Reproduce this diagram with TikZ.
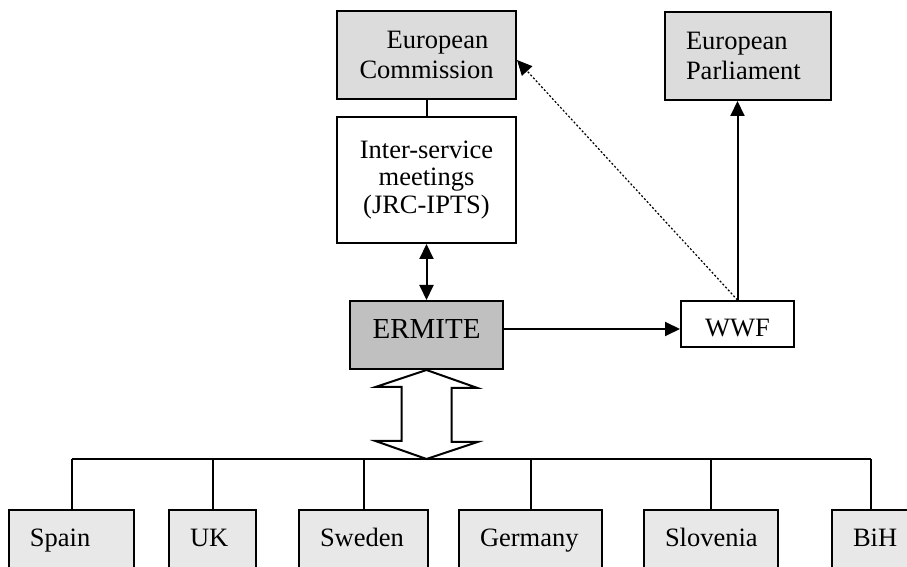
\documentclass[tikz,border=0pt]{standalone}
\usepackage{fontspec}
\setmainfont{Liberation Serif}
\usetikzlibrary{arrows.meta}
\definecolor{hq}{HTML}{DCDCDC}
\definecolor{ctry}{HTML}{E8E8E8}
\definecolor{core}{HTML}{C0C0C0}

\begin{document}
\begin{tikzpicture}[x=0.5pt, y=-0.5pt]
	\tikzset{n/.style={draw=black, line width=1pt, inner sep=0pt, font=\fontsize{13.25pt}{15.25pt}\selectfont},
	c/.style={n, fill=ctry, anchor=north west, inner xsep=10.5pt, text height=18pt, text depth=22pt, align=left},
	l/.style={line width=1pt},
	f/.style={->, >={Triangle[length=7.5pt, width=7pt]}, line width=1pt}};

	\useasboundingbox (0,0) rectangle (907,567);
	\clip (0,0) rectangle (907,567);

	\node[n, fill=hq, minimum width=89.5pt, minimum height=44pt, align=center] (ec) at (426.5,55) {\hspace*{11pt}European\\Commission};
	\node[n, fill=hq, anchor=north west, text width=62pt, inner xsep=10.5pt, minimum height=44pt, align=left] (ep) at (664,11) {European\\Parliament};
	\node[n, minimum width=89.5pt, minimum height=63pt, align=center, font=\fontsize{13.25pt}{13.75pt}\selectfont] (ism) at (426.5,180) {Inter-service\\meetings\\(JRC-IPTS)};
	\node[n, fill=core, minimum width=76.5pt, minimum height=34pt, font=\fontsize{14.5pt}{17pt}\selectfont, text height=9.6pt, text depth=5.6pt] (ermite) at (426.5,335) {ERMITE};
	\node[n, minimum width=56.5pt, minimum height=23pt, text height=12pt, text depth=0pt] (wwf) at (737.5,324) {WWF};

	\node[c, text width=41.5pt] (spain) at (8,509) {Spain};
	\node[c, text width=22.5pt] (uk) at (168,509) {UK};
	\node[c, text width=43.5pt] (sweden) at (298,509) {Sweden};
	\node[c, text width=50.5pt] (germany) at (458,509) {Germany};
	\node[c, text width=46pt] (slovenia) at (643,509) {Slovenia};
	\node[c, text width=18pt] (bih) at (831,509) {BiH};

	\coordinate (bus) at (426.5,459);

	\draw[l] (ec) -- (ism);
	\draw[f, <->] (ism.south) -- (ism.south |- ermite.north);
	\draw[f] ([yshift=3pt]ermite.east) -- ([yshift=3pt]ermite.east -| wwf.west);
	\draw[f] (wwf.north) -- (wwf.north |- ep.south);
	\draw[f, densely dotted, line width=0.6pt] (wwf.north) -- ([yshift=-2.5pt]ec.east);

	\draw[l, fill=white] (ermite.south) -- ++(51,18) -- ++(-26,0) -- ++(0,54) -- ++(26,0) -- (bus) -- ++(-51,-18) -- ++(26,0) -- ++(0,-54) -- ++(-26,0) -- cycle;

	\draw[l] (spain.north |- bus) -- (bih.north |- bus);
	\draw[l] (spain) -- (spain |- bus);
	\draw[l] (uk) -- (uk |- bus);
	\draw[l] (sweden) -- (sweden |- bus);
	\draw[l] (germany) -- (germany |- bus);
	\draw[l] (slovenia) -- (slovenia |- bus);
	\draw[l] (bih) -- (bih |- bus);
\end{tikzpicture}
\end{document}
